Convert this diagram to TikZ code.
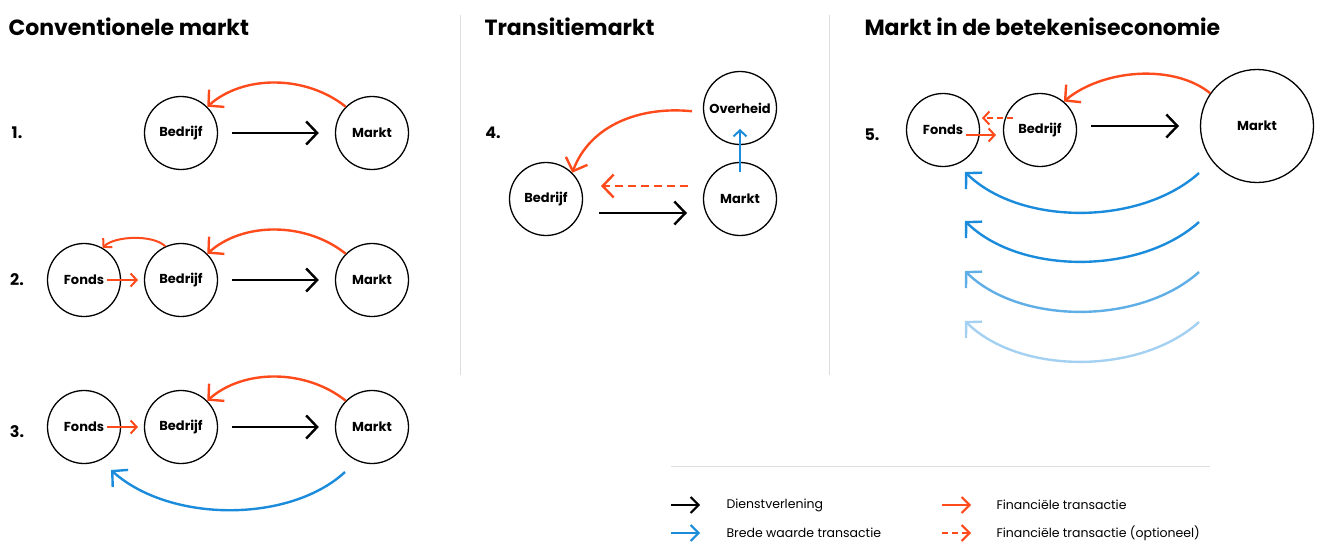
\documentclass[tikz,border=0pt]{standalone}
\usepackage{fontspec}
\setmainfont{Poppins}
\usetikzlibrary{arrows.meta}

\definecolor{finorange}{HTML}{FF4A1C}
\definecolor{valblue}{HTML}{1B8BDC}
\definecolor{sepgray}{HTML}{DDDDDD}

\tikzset{
    party/.style={circle, draw, line width=1.3pt, minimum size=73pt, inner sep=0pt, font=\fontsize{13}{15}\selectfont\bfseries},
    bigtip/.style={-{Straight Barb[length=11pt, width=23pt]}},
    smalltip/.style={-{Straight Barb[length=6pt, width=13pt]}},
    service/.style={line width=2.4pt, black, bigtip},
    money/.style={line width=2.4pt, finorange, bigtip},
    value/.style={line width=2.4pt, valblue, bigtip},
    title/.style={anchor=west, font=\fontsize{22}{26}\selectfont\bfseries},
    num/.style={font=\fontsize{16}{18}\selectfont\bfseries},
    legend/.style={anchor=west, font=\fontsize{12.5}{15}\selectfont}
}

\begin{document}
\begin{tikzpicture}[x=1pt, y=-1pt]
    \useasboundingbox (0,0) rectangle (1322,543);

    % Titles and separators
    \node[title] (t1) at (5,27) {Conventionele markt};
    \node[title] (t2) at (481,27) {Transitiemarkt};
    \node[title] (t3) at (861,27) {Markt in de betekeniseconomie};
    \draw[sepgray, line width=1pt] (460,15) -- (460,375);
    \draw[sepgray, line width=1pt] (829,15) -- (829,375);

    % 1. Conventionele markt
    \node[num] (n1) at (17,133) {1.};
    \node[party] (b1) at (181,133) {Bedrijf};
    \node[party] (m1) at (372,133) {Markt};
    \draw[service] ([xshift=14pt]b1.east) -- ([xshift=-16pt]m1.west);
    \draw[money] (m1.135) .. controls +(-40,-32) and +(36,-32) .. (b1.45);

    % 2. Met fonds
    \node[num] (n2) at (17,280) {2.};
    \node[party] (f2) at (84,280) {Fonds};
    \node[party] (b2) at (181,280) {Bedrijf};
    \node[party] (m2) at (372,280) {Markt};
    \draw[line width=2pt, finorange, smalltip] (107,280) -- (138,280);
    \draw[service] ([xshift=14pt]b2.east) -- ([xshift=-16pt]m2.west);
    \draw[money] (m2.135) .. controls +(-40,-32) and +(36,-32) .. (b2.45);
    \draw[money, line width=2pt, smalltip] (b2.115) .. controls +(-12,-12) and +(12,-12) .. (f2.60);

    % 3. Met brede waarde
    \node[num] (n3) at (17,432) {3.};
    \node[party] (f3) at (84,427) {Fonds};
    \node[party] (b3) at (181,427) {Bedrijf};
    \node[party] (m3) at (372,427) {Markt};
    \draw[line width=2pt, finorange, smalltip] (107,427) -- (138,427);
    \draw[service] ([xshift=14pt]b3.east) -- ([xshift=-16pt]m3.west);
    \draw[money] (m3.135) .. controls +(-40,-32) and +(36,-32) .. (b3.45);
    \draw[value] ([shift={(-27,45)}]m3.center) .. controls (290,523) and (170,523) .. (111,470);

    % 4. Transitiemarkt
    \node[num] (n4) at (493,133) {4.};
    \node[party] (o4) at (740,108) {Overheid};
    \node[party] (m4) at (740,199) {Markt};
    \node[party] (b4) at (546,199) {Bedrijf};
    \draw[money] ([xshift=-11pt]o4.185) .. controls (640,106) and (590,125) .. (b4.45);
    \draw[money, dash pattern=on 8pt off 5pt] (688,186) -- (601,186);
    \draw[service] (599,213) -- (687,213);
    \draw[line width=2pt, valblue, smalltip] ([yshift=-10pt]m4.north) -- (740,129);

    % 5. Markt in de betekeniseconomie
    \node[num] (n5) at (872,135) {5.};
    \node[party] (f5) at (943,130) {Fonds};
    \node[party] (b5) at (1040,130) {Bedrijf};
    \node[party, minimum size=113pt] (m5) at (1257,126) {Markt};
    \draw[service] (1091,126) -- (1179,126);
    \draw[money] (m5.145) .. controls +(-37,-30) and +(38,-32) .. (b5.50);
    \draw[line width=2pt, finorange, smalltip, dash pattern=on 6pt off 4pt] (1013,118) -- (982,118);
    \draw[line width=2pt, finorange, smalltip] (966,135) -- (996,135);
    \foreach \dy/\shade in {0/100, 49/100, 99/70, 149/40} {
        \draw[value, draw=valblue!\shade] (1199,173+\dy) .. controls (1140,226+\dy) and (1020,226+\dy) .. (965,172+\dy);
    }

    % Legend
    \draw[sepgray, line width=1pt] (671,466) -- (1210,466);
    \coordinate (l1) at (671,505);
    \coordinate (l2) at (671,533);
    \coordinate (l3) at (942,505);
    \coordinate (l4) at (942,533);
    \draw[line width=2pt, black, -{Straight Barb[length=8pt, width=16pt]}] (l1) -- ++(29,0);
    \draw[line width=2pt, valblue, -{Straight Barb[length=8pt, width=16pt]}] (l2) -- ++(29,0);
    \draw[line width=2pt, finorange, -{Straight Barb[length=8pt, width=16pt]}] (l3) -- ++(29,0);
    \draw[line width=2pt, finorange, dash pattern=on 6pt off 4pt, -{Straight Barb[length=8pt, width=16pt]}] (l4) -- ++(29,0);
    \node[legend] (d1) at (723,505) {Dienstverlening};
    \node[legend] (d2) at (723,533) {Brede waarde transactie};
    \node[legend] (d3) at (993,505) {Financiële transactie};
    \node[legend] (d4) at (993,533) {Financiële transactie (optioneel)};
\end{tikzpicture}
\end{document}
